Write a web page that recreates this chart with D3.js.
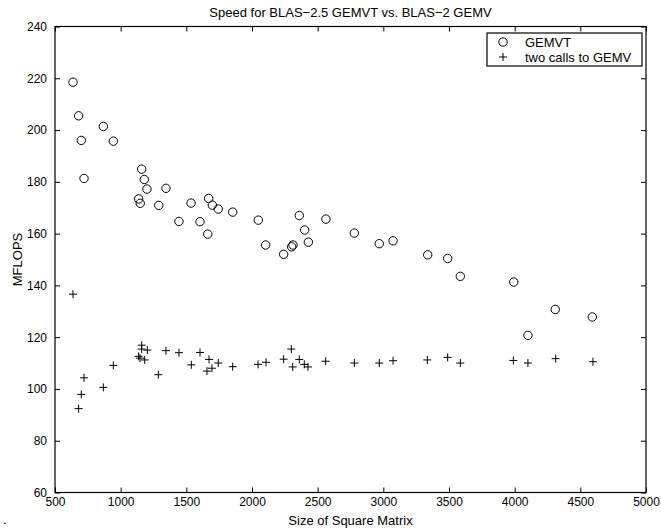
<!DOCTYPE html>
<html>
<head>
<meta charset="utf-8">
<script src="https://cdn.jsdelivr.net/npm/d3@7"></script>
<style>
  body { margin: 0; background: #fff; }
  text { font-family: "Liberation Sans", Arial, Helvetica, sans-serif; }
</style>
</head>
<body>
<div id="chart"></div>
<script>
// GEMVT (circles)
const gemvtSize = [637, 680, 868, 700, 944, 721, 1160, 1180, 1200, 1345, 1137, 1149, 1290, 1536,
                   1670, 1698, 1743, 1853, 1444, 1604, 2048, 1663, 2104, 2360, 2563, 2401, 2429,
                   2241, 2302, 2312, 2779, 2969, 3074, 3338, 3490, 3586, 3993, 4309, 4591, 4101];
const gemvtMflops = [218.5, 205.5, 201.4, 196.0, 195.7, 181.3, 184.9, 180.9, 177.2, 177.5, 173.4, 171.7, 170.9, 171.8,
                     173.6, 171.0, 169.5, 168.3, 164.7, 164.6, 165.2, 159.8, 155.6, 167.0, 165.6, 161.4, 156.7,
                     152.0, 154.9, 155.6, 160.2, 156.1, 157.2, 151.8, 150.4, 143.5, 141.3, 130.7, 127.8, 120.7];

// two calls to GEMV (pluses)
const gemvSize = [637, 680, 700, 721, 868, 944, 1160, 1160, 1137, 1147, 1183, 1203, 1287, 1345,
                  1444, 1538, 1604, 1673, 1657, 1695, 1743, 1853, 2046, 2107, 2241, 2299, 2310,
                  2360, 2398, 2426, 2561, 2779, 2969, 3074, 3335, 3490, 3586, 3990, 4101, 4312, 4596];
const gemvMflops = [136.6, 92.4, 97.9, 104.3, 100.6, 109.1, 116.9, 115.4, 112.6, 111.9, 111.2, 115.0, 105.5, 114.8,
                    114.0, 109.3, 114.1, 111.4, 106.9, 108.0, 110.0, 108.6, 109.5, 110.3, 111.5, 115.4, 108.5,
                    111.4, 109.5, 108.5, 110.7, 110.0, 110.0, 110.9, 111.2, 112.2, 110.0, 111.0, 110.0, 111.7, 110.5];

const xTicks = d3.range(500, 5001, 500);
const yTicks = d3.range(60, 241, 20);

const margin = { top: 26.5, right: 15, bottom: 36.5, left: 55 },
      width = 661 - margin.left - margin.right,
      height = 529 - margin.top - margin.bottom;

const root = d3.select("#chart")
    .append("svg")
    .attr("width", 661)
    .attr("height", 529);

const svg = root.append("g")
    .attr("transform", `translate(${margin.left},${margin.top})`);

const x = d3.scaleLinear().domain([500, 5000]).range([0, width]);
const y = d3.scaleLinear().domain([60, 240]).range([height, 0]);

// axes, ticks pointing inward on all four sides
svg.append("g")
    .attr("transform", `translate(0,${height})`)
    .call(d3.axisBottom(x).tickValues(xTicks).tickFormat(d3.format("d"))
        .tickSize(-5).tickSizeOuter(0).tickPadding(5))
    .call(g => g.selectAll("text").attr("font-size", "12px").attr("fill", "#000"));

svg.append("g")
    .call(d3.axisTop(x).tickValues(xTicks).tickSize(-5).tickSizeOuter(0).tickFormat(""));

svg.append("g")
    .call(d3.axisLeft(y).tickValues(yTicks).tickFormat(d3.format("d"))
        .tickSize(-5).tickSizeOuter(0).tickPadding(8))
    .call(g => g.selectAll("text").attr("font-size", "12px").attr("fill", "#000"));

svg.append("g")
    .attr("transform", `translate(${width},0)`)
    .call(d3.axisRight(y).tickValues(yTicks).tickSize(-5).tickSizeOuter(0).tickFormat(""));

svg.selectAll(".domain").remove();
svg.selectAll(".tick line").attr("stroke", "#000");

svg.append("rect")
    .attr("width", width)
    .attr("height", height)
    .attr("fill", "none")
    .attr("stroke", "#000")
    .attr("stroke-width", 1.2);

// GEMVT circles
svg.selectAll(".gemvt")
    .data(d3.zip(gemvtSize, gemvtMflops))
    .join("circle")
    .attr("class", "gemvt")
    .attr("cx", d => x(d[0]))
    .attr("cy", d => y(d[1]))
    .attr("r", 4.2)
    .attr("fill", "none")
    .attr("stroke", "#000")
    .attr("stroke-width", 1);

// GEMV pluses
svg.selectAll(".gemv")
    .data(d3.zip(gemvSize, gemvMflops))
    .join("path")
    .attr("class", "gemv")
    .attr("transform", d => `translate(${x(d[0])},${y(d[1])})`)
    .attr("d", "M-4,0H4M0,-4V4")
    .attr("stroke", "#000")
    .attr("stroke-width", 1)
    .attr("fill", "none");

// titles
root.append("text")
    .attr("x", margin.left + width / 2)
    .attr("y", 17)
    .attr("text-anchor", "middle")
    .attr("font-size", "13px")
    .text("Speed for BLAS\u22122.5 GEMVT vs. BLAS\u22122 GEMV");

root.append("text")
    .attr("x", margin.left + width / 2)
    .attr("y", 525)
    .attr("text-anchor", "middle")
    .attr("font-size", "13px")
    .text("Size of Square Matrix");

root.append("text")
    .attr("transform", "rotate(-90)")
    .attr("x", -(margin.top + height / 2))
    .attr("y", 22)
    .attr("text-anchor", "middle")
    .attr("font-size", "13px")
    .text("MFLOPS");

root.append("text")
    .attr("x", 3)
    .attr("y", 524)
    .attr("font-size", "13px")
    .text(".");

// legend
const legend = root.append("g");
legend.append("rect")
    .attr("x", 487).attr("y", 33)
    .attr("width", 155).attr("height", 33)
    .attr("fill", "#fff")
    .attr("stroke", "#000")
    .attr("stroke-width", 1.2);
legend.append("circle")
    .attr("cx", 503).attr("cy", 42).attr("r", 4.2)
    .attr("fill", "none").attr("stroke", "#000");
legend.append("path")
    .attr("transform", "translate(503,57)")
    .attr("d", "M-4,0H4M0,-4V4")
    .attr("stroke", "#000");
legend.append("text")
    .attr("x", 525).attr("y", 46.5)
    .attr("font-size", "13px")
    .text("GEMVT");
legend.append("text")
    .attr("x", 525).attr("y", 61.5)
    .attr("font-size", "13px")
    .text("two calls to GEMV");
</script>
</body>
</html>
